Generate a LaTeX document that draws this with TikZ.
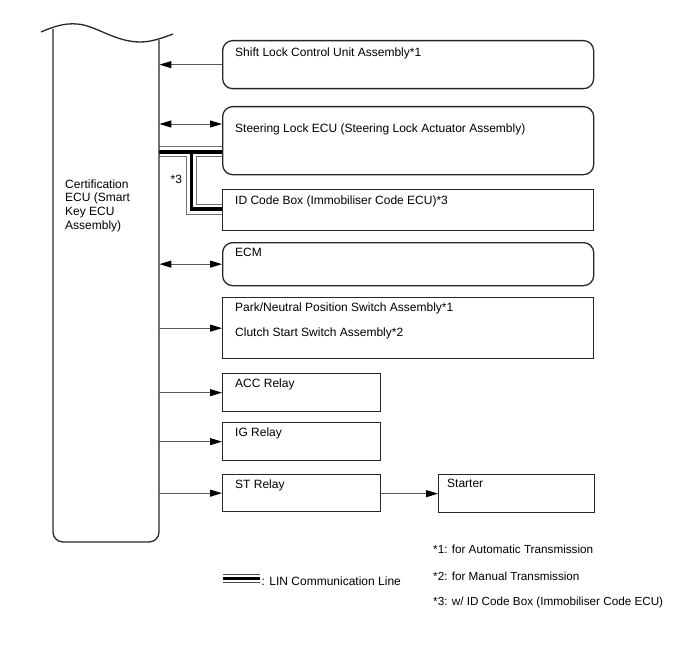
\documentclass[tikz,border=0pt]{standalone}
\usepackage{fontspec}
\setmainfont{Liberation Sans}
\usetikzlibrary{arrows.meta,calc}
\pgfdeclarelayer{bg}
\pgfsetlayers{bg,main}
\begin{document}
\begin{tikzpicture}[x=1pt,y=-1pt,
  font=\fontsize{12}{13.6}\selectfont,
  border/.style={draw=black!85, line width=1.3pt},
  rbox/.style={border, rounded corners=10pt, inner sep=0pt, anchor=north west},
  sbox/.style={border, inner sep=0pt, anchor=north west},
  lbl/.style={anchor=base west, inner sep=0pt},
  conn/.style={draw=black!65, line width=0.9pt},
  arr/.style={conn, -{Triangle[length=12pt,width=7pt,color=black]}},
  darr/.style={conn, {Triangle[length=12pt,width=7pt,color=black]}-{Triangle[length=12pt,width=7pt,color=black]}},
  lingray/.style={draw=black!55, line width=11pt},
  linwhite/.style={draw=white, line width=9pt},
  linblack/.style={draw=black, line width=3.5pt}
]
\useasboundingbox (0,0) rectangle (688,658);

% ECU (custom outline)
\node[inner sep=0pt, minimum width=106pt, minimum height=513pt, anchor=north west] (ecu) at (53,29) {};
\draw[border] (41,32) .. controls (55,26) and (65,23) .. (77,24)
  .. controls (95,25) and (115,42) .. (140,42)
  .. controls (152,42) and (162,38) .. (173,34);
\draw[border, rounded corners=10pt] (53,29) -- (53,542) -- (159,542) -- (159,40);
\node[anchor=north west, inner sep=0pt, align=left] (ecutxt) at (65,179.5)
  {Certification\\ECU (Smart\\Key ECU\\Assembly)};

% Boxes
\node[rbox, minimum width=371pt, minimum height=48pt] (shift) at (222,40) {};
\node[rbox, minimum width=371pt, minimum height=68pt] (steer) at (222,106) {};
\node[sbox, minimum width=371pt, minimum height=41pt] (idbox) at (222,189) {};
\node[rbox, minimum width=371pt, minimum height=43pt] (ecm) at (222,242) {};
\node[sbox, minimum width=371pt, minimum height=61pt] (park) at (222,297) {};
\node[sbox, minimum width=158pt, minimum height=38pt] (acc) at (222,373) {};
\node[sbox, minimum width=158pt, minimum height=38pt] (ig) at (222,422) {};
\node[sbox, minimum width=158pt, minimum height=37pt] (st) at (222,474) {};
\node[sbox, minimum width=156pt, minimum height=38pt] (starter) at (438,474) {};

% Box labels
\node[lbl] (tshift) at ($(shift.north west)+(13,17)$) {Shift Lock Control Unit Assembly*1};
\node[lbl] (tsteer) at ($(steer.north west)+(13,27)$) {Steering Lock ECU (Steering Lock Actuator Assembly)};
\node[lbl] (tid) at ($(idbox.north west)+(13,15)$) {ID Code Box (Immobiliser Code ECU)*3};
\node[lbl] (tecm) at ($(ecm.north west)+(13,14)$) {ECM};
\node[lbl] (tpark1) at ($(park.north west)+(13,14.7)$) {Park/Neutral Position Switch Assembly*1};
\node[lbl] (tpark2) at ($(park.north west)+(13,39.7)$) {Clutch Start Switch Assembly*2};
\node[lbl] (tacc) at ($(acc.north west)+(13,14)$) {ACC Relay};
\node[lbl] (tig) at ($(ig.north west)+(13,14)$) {IG Relay};
\node[lbl] (tst) at ($(st.north west)+(13,14)$) {ST Relay};
\node[lbl] (tstarter) at ($(starter.north west)+(9,13.5)$) {Starter};

% Connectors
\draw[arr] (shift.west) -- (ecu.east |- shift.west);
\draw[darr] (ecu.east |- 0,124) -- (steer.west |- 0,124);
\draw[darr] (ecu.east |- ecm.west) -- (ecm.west);
\draw[arr] (ecu.east |- park.west) -- (park.west);
\draw[arr] (ecu.east |- acc.west) -- (acc.west);
\draw[arr] (ecu.east |- ig.west) -- (ig.west);
\draw[arr] (ecu.east |- st.west) -- (st.west);
\draw[arr] (st.east |- starter.west) -- (starter.west);

% LIN communication lines
\coordinate (lA) at (ecu.east |- 0,152);
\coordinate (lB) at (steer.west |- 0,152);
\coordinate (lJ) at (191.5,152);
\coordinate (lK) at (191.5,209);
\coordinate (lC) at (idbox.west |- 0,209);
\begin{pgfonlayer}{bg}
\draw[lingray] (lA) -- (lB);
\draw[lingray] (lJ) -- (lK) -- (lC);
\draw[linwhite, line cap=rect] (lA) -- (lB);
\draw[linwhite] (lJ) -- (lK) -- (lC);
\draw[linblack] (lA) -- (lB);
\draw[linblack] (lJ) -- (lK) -- (lC);
\end{pgfonlayer}
\node[lbl] (star3) at (170.5,183.3) {*3};

% Legend
\coordinate (gA) at (223,578);
\coordinate (gB) at (260,578);
\draw[draw=black!70, line width=9pt] (gA) -- (gB);
\draw[draw=white, line width=7pt] (gA) -- (gB);
\draw[draw=black, line width=3pt] (gA) -- (gB);
\node[lbl] (legtxt) at (261.5,585.5) {: LIN Communication Line};

% Footnotes
\begin{scope}[font=\fontsize{11.7}{13.6}\selectfont]
\node[lbl] (fn1) at (433,553.5) {*1: for Automatic Transmission};
\node[lbl] (fn2) at (433,580) {*2: for Manual Transmission};
\node[lbl] (fn3) at (433,605) {*3: w/ ID Code Box (Immobiliser Code ECU)};
\end{scope}
\end{tikzpicture}
\end{document}
